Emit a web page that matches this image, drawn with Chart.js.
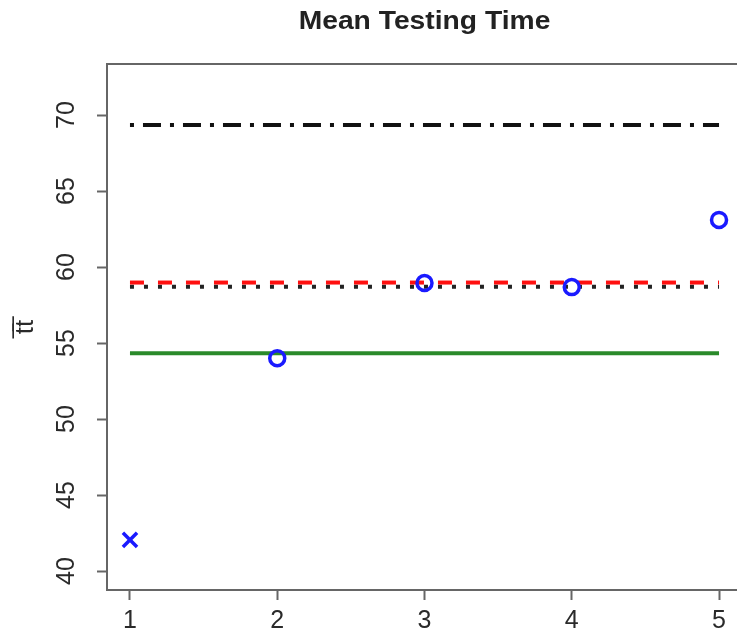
<!DOCTYPE html>
<html>
<head>
<meta charset="utf-8">
<script src="https://cdn.jsdelivr.net/npm/chart.js@4/dist/chart.umd.min.js"></script>
<style>
  html, body { margin: 0; padding: 0; background: #fff; overflow: hidden; }
  #wrap { width: 737px; height: 639px; position: relative; }
</style>
</head>
<body>
<div id="wrap"><canvas id="c" width="737" height="639"></canvas></div>
<script>
// ---- data ----
const chartTitle = "Mean Testing Time";
const yAxisTitle = "t\u0305t\u0305";
const xTickValues = [1, 2, 3, 4, 5];
const yTickValues = [40, 45, 50, 55, 60, 65, 70];
const crossX = [1];
const crossY = [42.05];
const circleX = [2, 3, 4, 5];
const circleY = [54.0, 58.95, 58.68, 63.1];
const lineSpan = [1, 5];
const dashDotLevel = [69.35];
const redDashLevel = [58.98];
const dottedLevel = [58.70];
const greenLevel = [54.33];

const FONT = "'Liberation Sans', Arial, Helvetica, sans-serif";
const AXIS_COLOR = '#666';
const TEXT_COLOR = '#2a2a2a';

function hLine(level) {
  return lineSpan.map(x => ({ x: x, y: level[0] }));
}

const datasets = [
  { type: 'line', data: hLine(dashDotLevel), borderColor: '#111', borderWidth: 4,
    borderDash: [4, 9, 18, 9], pointRadius: 0, fill: false, order: 5 },
  { type: 'line', data: hLine(dottedLevel), borderColor: '#222', borderWidth: 4,
    borderDash: [4, 10], pointRadius: 0, fill: false, order: 4 },
  { type: 'line', data: hLine(redDashLevel), borderColor: '#ff1010', borderWidth: 4,
    borderDash: [14, 14], pointRadius: 0, fill: false, order: 3 },
  { type: 'line', data: hLine(greenLevel), borderColor: '#2a8a2a', borderWidth: 4,
    pointRadius: 0, fill: false, order: 2 },
  { type: 'scatter', data: circleX.map((x, i) => ({ x: x, y: circleY[i] })),
    pointStyle: 'circle', pointRadius: 7.5, borderWidth: 3.5,
    borderColor: '#1a1aff', backgroundColor: 'rgba(0,0,0,0)', order: 1 },
  { type: 'scatter', data: crossX.map((x, i) => ({ x: x, y: crossY[i] })),
    pointStyle: 'crossRot', pointRadius: 10, borderWidth: 3.5,
    borderColor: '#1a1aff', backgroundColor: '#1a1aff', order: 1 }
];

const decorations = {
  id: 'decorations',
  afterDraw(chart) {
    const ctx = chart.ctx;
    const area = chart.chartArea;
    const xs = chart.scales.x, ys = chart.scales.y;
    ctx.save();
    // top border of the box
    ctx.strokeStyle = AXIS_COLOR;
    ctx.lineWidth = 2;
    ctx.beginPath();
    ctx.moveTo(area.left - 1, area.top);
    ctx.lineTo(chart.width, area.top);
    ctx.stroke();
    // title (slightly widened like the reference)
    ctx.save();
    ctx.fillStyle = '#222';
    ctx.font = "bold 25px " + FONT;
    ctx.textAlign = 'center';
    ctx.textBaseline = 'middle';
    ctx.translate(xs.getPixelForValue(3), 22);
    ctx.scale(1.13, 1);
    ctx.fillText(chartTitle, 0, 0);
    ctx.restore();
    // x tick labels
    ctx.fillStyle = TEXT_COLOR;
    ctx.font = "25px " + FONT;
    ctx.textAlign = 'center';
    ctx.textBaseline = 'middle';
    xTickValues.forEach(v => {
      ctx.fillText(String(v), xs.getPixelForValue(v), 621);
    });
    // rotated y tick labels
    yTickValues.forEach(v => {
      const py = ys.getPixelForValue(v);
      ctx.save();
      ctx.translate(67, py);
      ctx.rotate(-Math.PI / 2);
      ctx.textAlign = 'center';
      ctx.textBaseline = 'middle';
      ctx.fillText(String(v), 0, 0);
      ctx.restore();
    });
    // y axis title
    ctx.save();
    ctx.translate(26, (area.top + area.bottom) / 2);
    ctx.rotate(-Math.PI / 2);
    ctx.textAlign = 'center';
    ctx.textBaseline = 'middle';
    ctx.font = "26px " + FONT;
    ctx.fillText(yAxisTitle, 0, 0);
    ctx.restore();
    ctx.restore();
  }
};

new Chart(document.getElementById('c'), {
  data: { datasets: datasets },
  options: {
    responsive: false,
    animation: false,
    layout: { autoPadding: false, padding: { top: 64, left: 0, right: 0, bottom: 0 } },
    plugins: { legend: { display: false }, tooltip: { enabled: false }, title: { display: false } },
    scales: {
      x: {
        type: 'linear',
        min: 0.844,
        max: 5.122,
        afterBuildTicks(scale) { scale.ticks = xTickValues.map(v => ({ value: v })); },
        afterFit(scale) { scale.height = 49; },
        grid: { drawOnChartArea: false, drawTicks: true, tickLength: 10, tickColor: AXIS_COLOR, tickWidth: 2 },
        border: { display: true, color: AXIS_COLOR, width: 2 },
        ticks: { display: false }
      },
      y: {
        type: 'linear',
        min: 38.75,
        max: 73.36,
        afterBuildTicks(scale) { scale.ticks = yTickValues.map(v => ({ value: v })); },
        afterFit(scale) { scale.width = 107; },
        grid: { drawOnChartArea: false, drawTicks: true, tickLength: 10, tickColor: AXIS_COLOR, tickWidth: 2 },
        border: { display: true, color: AXIS_COLOR, width: 2 },
        ticks: { display: false }
      }
    }
  },
  plugins: [decorations]
});
</script>
</body>
</html>
